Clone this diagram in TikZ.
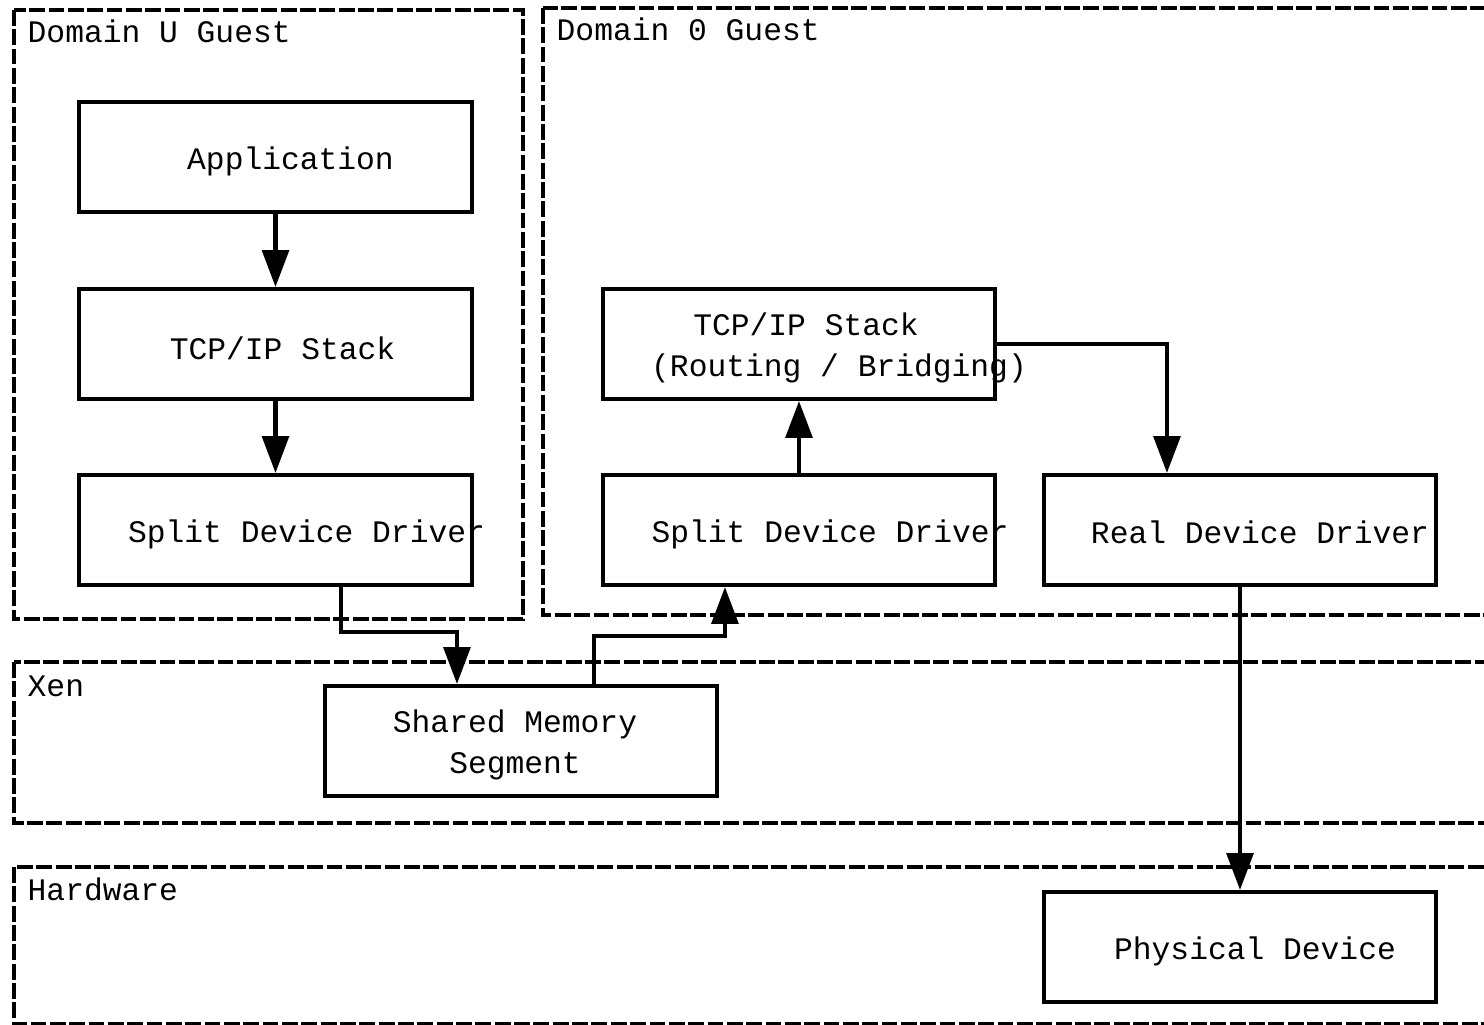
\documentclass[tikz,border=0pt]{standalone}
\usepackage{fontspec}
\setmonofont{Liberation Mono}
\usetikzlibrary{arrows.meta,positioning}

\begin{document}
\begin{tikzpicture}[x=0.01cm,y=-0.01cm,
    blk/.style={rectangle,draw,line width=1.15pt,minimum width=3.92cm,minimum height=1.1cm,inner sep=0pt},
    txt/.style={font=\ttfamily\fontsize{8.9}{11.7}\selectfont,inner sep=0pt,align=center},
    lbl/.style={txt,yshift=-0.04cm},
    grp/.style={draw,line width=1.15pt,dash pattern=on 4.5pt off 1pt},
    arr/.style={line width=1.15pt,-{Triangle[length=10.5pt,width=7.6pt]}}]
      \clip (0,0) rectangle (1484,1025);
      % dashed containers
      \draw[grp] (14,10) rectangle (523,619);
      \draw[grp] (543,8) rectangle (1510,615);
      \draw[grp] (14,662) rectangle (1510,823);
      \draw[grp] (14,867) rectangle (1510,1024.5);
      \begin{scope}[every node/.style={txt,anchor=west}]
        \node (domU) at (27,31) {Domain U Guest};
        \node (dom0) at (556,29) {Domain 0 Guest};
        \node (xen) at (27,686) {Xen};
        \node (hw) at (27,889) {Hardware};
      \end{scope}
      % boxes
      \begin{scope}[every node/.style={blk}]
        \node[label={[lbl,xshift=0.15cm]center:Application}] (app) at (275.5,157) {};
        \node[label={[lbl,xshift=0.07cm]center:TCP/IP Stack}] (tcpU) at (275.5,344) {};
        \node[label={[lbl,xshift=0.31cm]center:Split Device Driver}] (splitU) at (275.5,530) {};
        \node[label={[lbl,xshift=0.4cm]center:TCP/IP Stack\hspace*{0.66cm}\\(Routing / Bridging)}] (tcp0) at (799,344) {};
        \node[label={[lbl,xshift=0.31cm]center:Split Device Driver}] (split0) at (799,530) {};
        \node[label={[lbl,xshift=0.2cm,yshift=0.02cm]center:Real Device Driver}] (real) at (1240,530) {};
        \node[label={[lbl,xshift=-0.06cm]center:Shared Memory\\Segment}] (shm) at (521,741) {};
        \node[label={[lbl,xshift=0.15cm]center:Physical Device}] (phys) at (1240,947) {};
      \end{scope}
      % connectors
      \begin{scope}[every path/.style={arr}]
        \draw (app) -- (tcpU);
        \draw (tcpU) -- (splitU);
        \draw ([xshift=0.655cm]splitU.south) -- ++(0,45) -| ([xshift=-0.64cm]shm.north);
        \draw ([xshift=0.73cm]shm.north) -- ++(0,-48) -| ([xshift=-0.74cm]split0.south);
        \draw (split0) -- (tcp0);
        \draw (tcp0.east) -| ([xshift=-0.73cm]real.north);
        \draw (real) -- (phys);
      \end{scope}
    \end{tikzpicture}
\end{document}
